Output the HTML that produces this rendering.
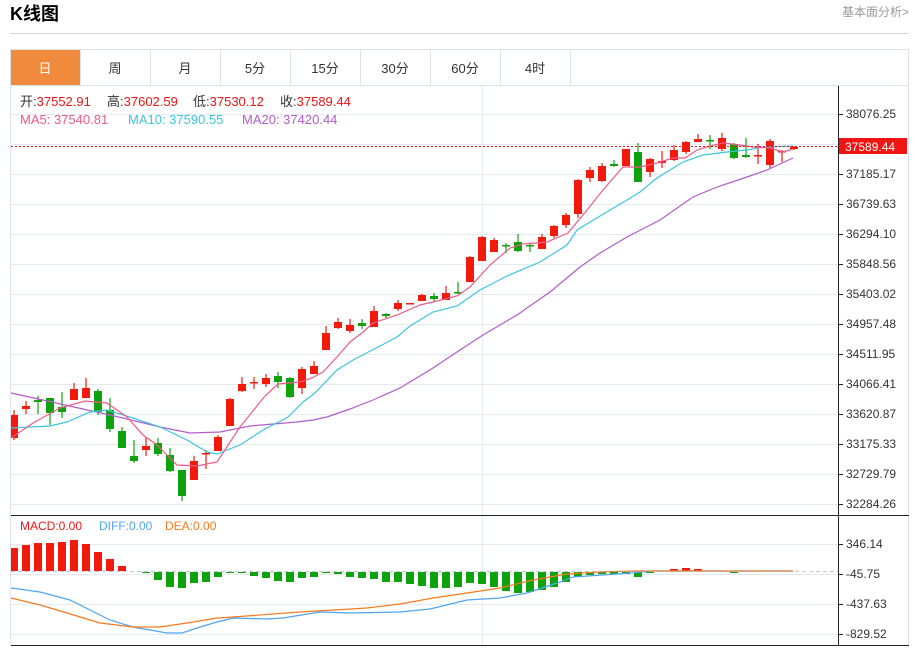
<!DOCTYPE html>
<html><head><meta charset="utf-8">
<style>
html,body{margin:0;padding:0;background:#fff;}
body{width:921px;height:646px;position:relative;overflow:hidden;font-family:"Liberation Sans","Noto Sans CJK SC",sans-serif;}
svg text{font-family:"Liberation Sans","Noto Sans CJK SC",sans-serif;}
</style></head><body>
<svg id="s" width="921" height="646" viewBox="0 0 921 646" xmlns="http://www.w3.org/2000/svg">
<text x="10" y="20" font-size="18" font-weight="bold" fill="#000">K线图</text>
<text x="909" y="16" font-size="12" fill="#999" text-anchor="end">基本面分析&gt;</text>
<line x1="10" y1="33.5" x2="909" y2="33.5" stroke="#d8d8d8"/>
<rect x="10.5" y="49.5" width="898" height="596" fill="none" stroke="#dde3ea"/>
<line x1="10.5" y1="85.5" x2="909" y2="85.5" stroke="#dde3ea"/>
<rect x="11" y="50" width="69" height="35" fill="#f08a3c"/>
<g stroke="#dde3ea"><line x1="80.5" y1="50" x2="80.5" y2="85"/><line x1="150.5" y1="50" x2="150.5" y2="85"/><line x1="220.5" y1="50" x2="220.5" y2="85"/><line x1="290.5" y1="50" x2="290.5" y2="85"/><line x1="360.5" y1="50" x2="360.5" y2="85"/><line x1="430.5" y1="50" x2="430.5" y2="85"/><line x1="500.5" y1="50" x2="500.5" y2="85"/><line x1="570.5" y1="50" x2="570.5" y2="85"/></g>
<g font-size="13" text-anchor="middle" fill="#333"><text x="45" y="73" fill="#fff">日</text><text x="115" y="73">周</text><text x="185" y="73">月</text><text x="255" y="73">5分</text><text x="325" y="73">15分</text><text x="395" y="73">30分</text><text x="465" y="73">60分</text><text x="535" y="73">4时</text></g>
<g id="grid" stroke="#e3eaf0"></g>
<line x1="482.5" y1="86" x2="482.5" y2="645" stroke="#e3eaf0"/>
<g id="cd"></g>
<g id="mb"></g>
<g id="ln" fill="none" stroke-width="1.2"></g>
<line x1="11" y1="146.5" x2="838" y2="146.5" stroke="#f01414" stroke-dasharray="2,2"/>
<line x1="11" y1="571.5" x2="838" y2="571.5" stroke="#9ac" stroke-dasharray="4,3" opacity="0.6"/>
<line x1="838.5" y1="86" x2="838.5" y2="645" stroke="#222"/>
<line x1="11" y1="515.5" x2="909" y2="515.5" stroke="#222"/>
<line x1="11" y1="645.5" x2="909" y2="645.5" stroke="#222"/>
<rect x="839" y="138" width="68" height="16" fill="#f01414"/>
<text x="845" y="151" font-size="12" fill="#fff">37589.44</text>
<g id="ax" font-size="12" fill="#333"></g>
<g font-size="13">
<text x="20" y="106" fill="#333">开:<tspan fill="#f01414">37552.91</tspan></text>
<text x="107" y="106" fill="#333">高:<tspan fill="#f01414">37602.59</tspan></text>
<text x="193" y="106" fill="#333">低:<tspan fill="#f01414">37530.12</tspan></text>
<text x="280" y="106" fill="#333">收:<tspan fill="#f01414">37589.44</tspan></text>
<text x="20" y="124" fill="#ef5a86">MA5: 37540.81</text>
<text x="128" y="124" fill="#3cc6de">MA10: 37590.55</text>
<text x="242" y="124" fill="#b25ccb">MA20: 37420.44</text>
<text x="20" y="530" font-size="12" fill="#f01414">MACD:0.00</text>
<text x="99" y="530" font-size="12" fill="#4fa5f0">DIFF:0.00</text>
<text x="165" y="530" font-size="12" fill="#f57a1f">DEA:0.00</text>
</g>
</svg>
<script>
var NS="http://www.w3.org/2000/svg";
function el(p,t,a){var e=document.createElementNS(NS,t);for(var k in a)e.setAttribute(k,a[k]);document.getElementById(p).appendChild(e);return e;}
var labs=[[114,"38076.25"],[144,""],[174,"37185.17"],[204,"36739.63"],[234,"36294.10"],[264,"35848.56"],[294,"35403.02"],[324,"34957.48"],[354,"34511.95"],[384,"34066.41"],[414,"33620.87"],[444,"33175.33"],[474,"32729.79"],[504,"32284.26"],[544,"346.14"],[574,"-45.75"],[604,"-437.63"],[634,"-829.52"]];
labs.forEach(function(l){el("grid","line",{x1:11,x2:838,y1:l[0]+.5,y2:l[0]+.5});if(l[1]){el("grid","line",{x1:838,x2:843,y1:l[0]+.5,y2:l[0]+.5,stroke:"#222"});var t=el("ax","text",{x:846,y:l[0]+4});t.textContent=l[1];}});
var C=[["r",415,438,410,440],["r",406,409,401,414],["g",400,402,396,414],["g",398,413,398,425],["g",407,412,392,418],["r",389,400,383,400],["r",388,398,378,398],["g",391,412,389,415],["g",410,429,398,432],["g",431,448,427,448],["g",456,461,440,463],["r",446,450,438,456],["g",443,454,438,456],["g",455,471,448,472],["g",470,496,470,501],["r",461,480,456,480],["r",453,454,450,469],["r",437,451,435,451],["r",399,426,398,426],["r",384,391,377,392],["r",382,383,377,389],["r",378,384,374,387],["g",376,382,372,388],["g",378,397,377,398],["r",369,388,367,394],["r",366,374,361,374],["r",333,350,326,350],["r",322,328,318,329],["r",325,331,319,333],["g",323,326,319,329],["r",311,327,306,327],["g",314,316,313,318],["r",303,309,300,311],["r",303,304,303,304],["r",295,301,294,301],["g",296,299,293,302],["r",293,300,286,300],["g",292,293,282,294],["r",257,282,256,282],["r",237,261,236,261],["r",240,252,238,252],["g",245,246,243,253],["g",242,251,234,252],["g",245,246,243,252],["r",237,249,234,249],["r",226,236,225,238],["r",215,225,213,228],["r",180,214,179,218],["r",170,178,167,182],["r",166,181,163,182],["g",164,166,160,167],["r",149,166,149,166],["g",152,182,143,182],["r",159,172,158,177],["r",161,163,151,168],["r",150,160,145,161],["r",142,152,141,154],["r",139,142,134,142],["g",140,141,135,149],["r",138,149,133,151],["g",144,158,143,159],["g",155,157,138,158],["r",155,156,144,164],["r",141,165,139,169],["r",151,152,150,162],["r",147,149,146,150]];
C.forEach(function(c,i){var x=14+12*i,col=c[0]=="r"?"#f21a0d":"#0ea30e";el("cd","line",{x1:x,x2:x,y1:c[3],y2:c[4],stroke:col,"stroke-width":1.2});var x0=Math.max(11,x-4);el("cd","rect",{x:x0,y:c[1],width:x+4-x0,height:Math.max(1.5,c[2]-c[1]),fill:col});});
var B=[548,545,543,543,542,540,544,552,559,566,571,573,580,587,588,583,582,577,573,573,576,578,581,582,578,577,573,574,577,578,579,582,582,584,586,588,588,587,583,584,587,591,593,592,590,587,582,577,575,574,574,574,577,573,572,569,568,569,572,572,573,572,572,572,572,572];
B.forEach(function(b,i){var x=14+12*i,x0=Math.max(11,x-4);if(b<571)el("mb","rect",{x:x0,y:b,width:x+4-x0,height:571-b,fill:"#f21a0d"});else if(b>572)el("mb","rect",{x:x0,y:572,width:x+4-x0,height:b-572,fill:"#0ea30e"});});
function L(c,p){el("ln","polyline",{points:p,stroke:c});}
L("#b25ccb","11,393 43,400 83,409 123,418 160,427 190,433 220,432 250,426 297,422 313,420 327,417 350,409 373,400 400,388 433,368 460,350 483,335 517,315 550,292 580,267 600,253 627,237 660,220 693,197 717,187 747,177 767,170 793,158");
L("#3cc6de","11,428 50,426 67,422 90,412 107,410 133,418 160,427 187,440 207,452 217,454 240,445 263,430 288,417 303,402 315,393 337,370 353,360 382,345 397,337 410,326 433,312 457,306 480,290 507,276 540,262 567,245 577,230 610,210 627,200 640,192 657,178 683,162 703,155 727,152 747,150 763,147 793,146");
L("#ef5a86","11,438 33,423 60,408 85,401 107,403 127,417 143,435 157,445 177,465 197,466 217,462 240,427 265,396 278,384 300,382 312,378 323,372 337,357 350,342 363,332 373,323 397,315 420,305 433,302 457,296 470,287 490,265 510,248 523,244 547,242 568,233 587,210 603,190 623,167 640,167 657,163 673,158 685,158 697,150 710,146 723,143 740,145 753,147 770,148 783,152 793,149");
L("#4fa5f0","11,588 40,592 70,600 90,610 110,620 133,627 167,633 182,633 200,627 217,622 233,618 267,619 283,618 320,612 350,613 400,612 430,609 467,600 500,598 527,593 560,582 573,577 617,574 653,571 793,571");
L("#f57a1f","11,598 40,605 67,613 100,623 133,627 160,627 187,623 217,618 233,617 300,612 367,608 400,604 433,598 467,593 500,588 533,580 567,574 600,572 633,571 793,571");
</script>
</body></html>
